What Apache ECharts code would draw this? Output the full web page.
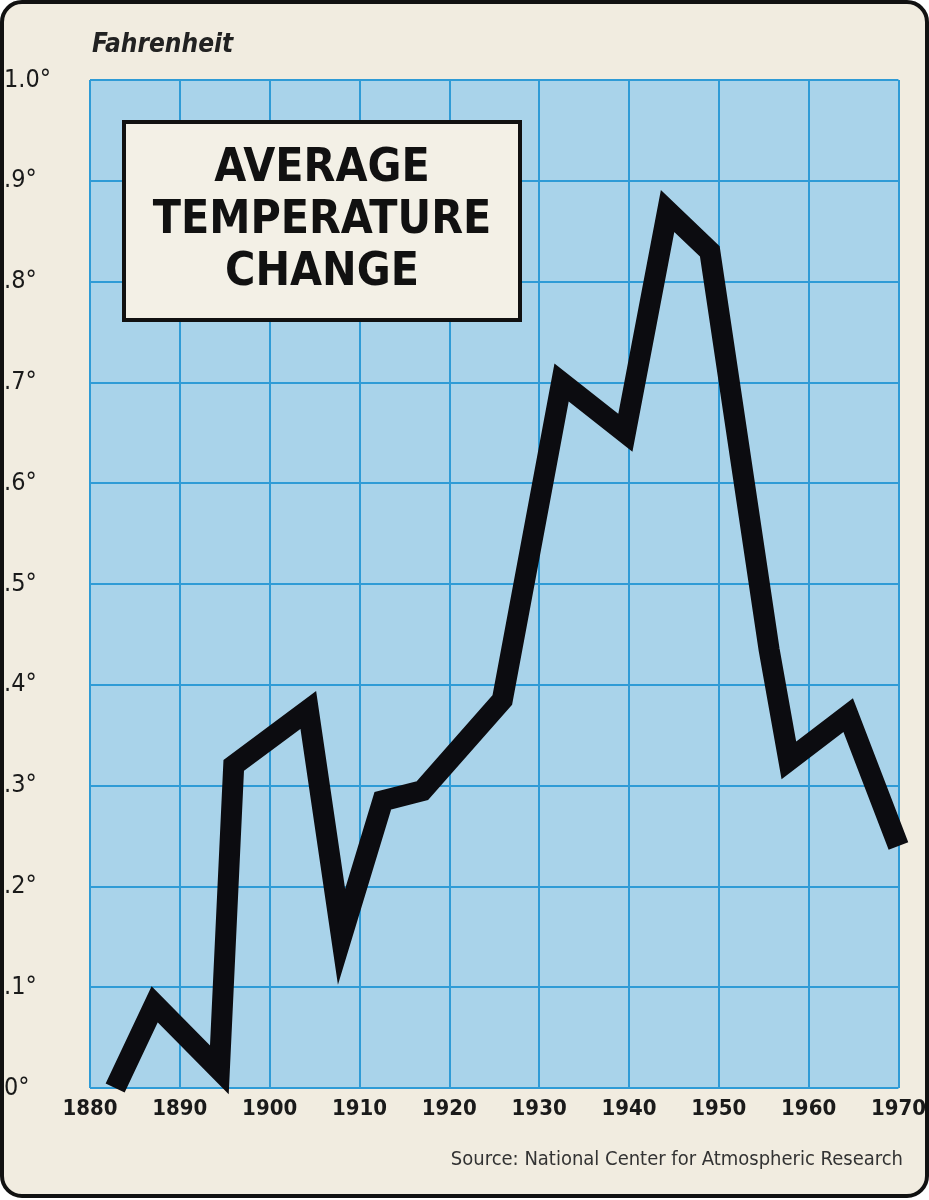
<!DOCTYPE html>
<html>
<head>
<meta charset="utf-8">
<script src="https://cdn.jsdelivr.net/npm/echarts@6/dist/echarts.min.js"></script>
<style>
html,body{margin:0;padding:0;background:#fff;}
#frame{position:absolute;left:0;top:0;width:921px;height:1190px;border:4px solid #111;border-radius:22px;background:#f1ece0;overflow:hidden;}
#main{width:929px;height:1200px;position:absolute;left:-4px;top:-4px;}
</style>
</head>
<body>
<div id="frame"><div id="main"></div></div>
<script>
// year / temperature change (deg F)
var years = [1882.8, 1887.2, 1894.4, 1896, 1904.3, 1908, 1912.6, 1917, 1925.9, 1932.5, 1939.6, 1944.3, 1949, 1955.6, 1957.8, 1964.4, 1970];
var temps = [0.0, 0.083, 0.018, 0.32, 0.375, 0.15, 0.285, 0.295, 0.385, 0.70, 0.65, 0.87, 0.83, 0.435, 0.325, 0.37, 0.24];
var yLabels = ['0°', '.1°', '.2°', '.3°', '.4°', '.5°', '.6°', '.7°', '.8°', '.9°', '1.0°'];

var points = [];
for (var i = 0; i < years.length; i++) {
    points.push([years[i], temps[i]]);
}

var font = '"Liberation Sans Narrow", "DejaVu Sans Condensed", "Liberation Sans", sans-serif';

var myChart = echarts.init(document.getElementById('main'));
var option = {
    backgroundColor: 'transparent',
    animation: false,
    grid: { left: 90, right: 24, top: 80, bottom: 112, backgroundColor: '#a9d3ea', show: true, borderWidth: 0 },
    xAxis: {
        type: 'value', min: 1880, max: 1970, interval: 10,
        axisLine: { show: false }, axisTick: { show: false },
        splitLine: { lineStyle: { color: '#2f9bd6', width: 2 } },
        axisLabel: { color: '#1a1a1a', fontFamily: font, fontWeight: 'bold', fontSize: 22, margin: 10,
            formatter: function (v) { return String(v); } }
    },
    yAxis: {
        type: 'value', min: 0, max: 1, interval: 0.1,
        axisLine: { show: false }, axisTick: { show: false },
        splitLine: { lineStyle: { color: '#2f9bd6', width: 2 } },
        axisLabel: { color: '#1a1a1a', fontFamily: font, fontSize: 25, margin: 14, align: 'left',
            padding: [0, 0, 0, -72],
            formatter: function (v) { return yLabels[Math.round(v * 10)]; } }
    },
    series: [{
        type: 'line', data: points, symbol: 'none', clip: false, z: 5,
        lineStyle: { color: '#0c0c10', width: 21, join: 'miter' }
    }],
    graphic: [
        { type: 'text', left: 92, top: 32, z: 100, style: { text: 'Fahrenheit', font: 'italic bold 26px ' + font, fill: '#222' } },
        { type: 'rect', z: 100, shape: { x: 124, y: 122, width: 396, height: 198 },
          style: { fill: '#f3f0e6', stroke: '#111', lineWidth: 4 } },
        { type: 'text', z: 101, x: 322, y: 221, style: { text: 'AVERAGE\nTEMPERATURE\nCHANGE', align: 'center', verticalAlign: 'middle',
            font: 'bold 46px ' + font, fill: '#111', lineHeight: 52 } },
        { type: 'text', z: 100, right: 26, top: 1150, style: { text: 'Source: National Center for Atmospheric Research',
            font: '20px ' + font, fill: '#333' } }
    ]
};
myChart.setOption(option);
</script>
</body>
</html>
